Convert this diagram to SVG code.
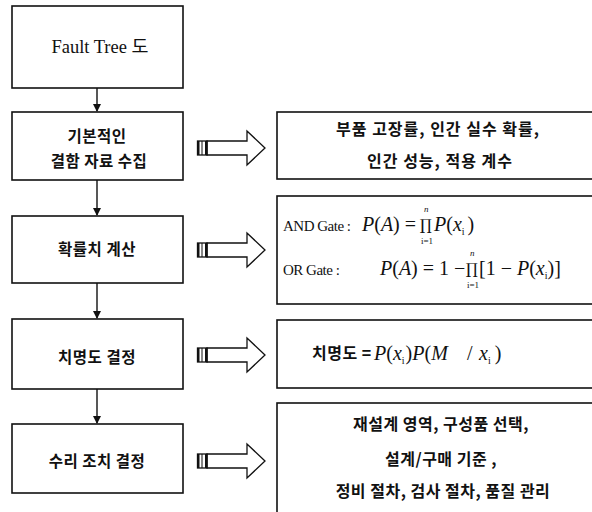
<svg xmlns="http://www.w3.org/2000/svg" width="592" height="512" viewBox="0 0 592 512">
<style>
.box{fill:#fff;stroke:#111;stroke-width:1.6}
.kr{font-family:"Noto Sans CJK KR","Noto Sans",sans-serif;font-weight:bold;font-size:15.5px;letter-spacing:0.5px;fill:#111}
.tm{font-family:"Liberation Serif","DejaVu Serif",serif;font-size:15px;fill:#111}
.m{font-family:"Liberation Serif","DejaVu Serif",serif;font-size:20px;fill:#111}
.it{font-style:italic}
.sm{font-family:"Liberation Serif","DejaVu Serif",serif;font-size:9px;fill:#111}
.pi{font-family:"DejaVu Serif","Liberation Serif",serif;font-size:15px;fill:#111}
.con{stroke:#111;stroke-width:1.4;fill:none}
.blk{fill:#fff;stroke:#111;stroke-width:1.3}
</style>
<defs>
<marker id="ah" markerWidth="8" markerHeight="8" refX="7" refY="4" orient="auto" markerUnits="userSpaceOnUse">
<path d="M0,0 L8,4 L0,8 Z" fill="#111"/>
</marker>
<g id="barrow">
<path class="blk" d="M207,-7 L247,-7 L247,-17 L265,0 L247,17 L247,7 L207,7 Z"/>
<rect x="197.5" y="-7" width="9.5" height="14" fill="#fff" stroke="#111" stroke-width="1.3"/>
<rect x="197.5" y="-7" width="2" height="14" fill="#111"/>
<line x1="202" y1="-7" x2="202" y2="7" stroke="#111" stroke-width="1"/>
<rect x="205" y="-7" width="2" height="14" fill="#111"/>
</g>
</defs>
<rect width="592" height="512" fill="#fff"/>

<g id="connectors">
<line class="con" x1="97" y1="88" x2="97" y2="111" marker-end="url(#ah)"/>
<line class="con" x1="97" y1="180" x2="97" y2="215" marker-end="url(#ah)"/>
<line class="con" x1="97" y1="283" x2="97" y2="318" marker-end="url(#ah)"/>
<line class="con" x1="97" y1="389" x2="97" y2="423" marker-end="url(#ah)"/>
<use href="#barrow" y="148"/>
<use href="#barrow" y="250"/>
<use href="#barrow" y="355"/>
<use href="#barrow" y="461"/>
</g>

<g id="n1">
<rect class="box" x="12" y="6" width="171" height="82"/>
<text x="100" y="53" text-anchor="middle" font-family="'Liberation Serif', 'Noto Sans CJK KR', serif" font-size="18.5" fill="#111">Fault Tree 도</text>
</g>
<g id="n2">
<rect class="box" x="12" y="112" width="171" height="68"/>
<text class="kr" x="97" y="142" text-anchor="middle">기본적인</text>
<text class="kr" x="99" y="167" text-anchor="middle">결함 자료 수집</text>
</g>
<g id="n3">
<rect class="box" x="12" y="216" width="171" height="67"/>
<text class="kr" x="97" y="255" text-anchor="middle">확률치 계산</text>
</g>
<g id="n4">
<rect class="box" x="12" y="319" width="171" height="70"/>
<text class="kr" x="97" y="363" text-anchor="middle">치명도 결정</text>
</g>
<g id="n5">
<rect class="box" x="12" y="424" width="171" height="69"/>
<text class="kr" x="97" y="467" text-anchor="middle">수리 조치 결정</text>
</g>

<g id="r1">
<rect class="box" x="277" y="112" width="330" height="67"/>
<text class="kr" x="438" y="135" text-anchor="middle" style="font-size:16px;letter-spacing:1px">부품 고장률, 인간 실수 확률,</text>
<text class="kr" x="440" y="167" text-anchor="middle" style="font-size:16px;letter-spacing:1px">인간 성능, 적용 계수</text>
</g>
<g id="r2">
<rect class="box" x="277" y="196" width="330" height="108"/>
<text class="tm" x="283" y="231" letter-spacing="-0.5">AND Gate :</text>
<text class="m" x="362" y="231"><tspan class="it">P</tspan>(<tspan class="it">A</tspan>) = </text>
<text class="pi" x="420" y="230">∏</text>
<text class="sm it" x="424" y="212">n</text>
<text class="sm" x="421" y="244" font-size="8">i=1</text>
<text class="m" x="434" y="231"><tspan class="it">P</tspan>(<tspan class="it">x</tspan><tspan font-size="10" dy="4">i</tspan><tspan dy="-4" dx="3">)</tspan></text>
<text class="tm" x="283" y="275" letter-spacing="-0.5">OR Gate :</text>
<text class="m" x="380" y="275"><tspan class="it">P</tspan>(<tspan class="it">A</tspan>) = 1 − </text>
<text class="pi" x="466" y="274">∏</text>
<text class="sm it" x="470" y="256">n</text>
<text class="sm" x="467" y="288" font-size="8">i=1</text>
<text class="m" x="479" y="275">[1 − <tspan class="it">P</tspan>(<tspan class="it">x</tspan><tspan font-size="10" dy="4">i</tspan><tspan dy="-4">)]</tspan></text>
</g>
<g id="r3">
<rect class="box" x="277" y="320" width="330" height="68"/>
<text class="kr" x="312" y="359" style="font-size:16px">치명도 =</text>
<text class="m" x="374" y="360" font-size="21"><tspan class="it">P</tspan>(<tspan class="it">x</tspan><tspan font-size="10" dy="4">i</tspan><tspan dy="-4" dx="1">)</tspan><tspan class="it">P</tspan>(<tspan class="it">M</tspan></text>
<text class="m" x="467" y="360" font-size="21">/</text>
<text class="m it" x="479" y="360" font-size="21">x<tspan font-size="10" dy="4" font-style="normal">i</tspan><tspan dy="-4" dx="4" font-style="normal">)</tspan></text>
</g>
<g id="r4">
<rect class="box" x="277" y="403" width="330" height="120"/>
<text class="kr" x="441" y="430" text-anchor="middle" style="font-size:16px">재설계 영역, 구성품 선택,</text>
<text class="kr" x="441" y="465" text-anchor="middle" style="font-size:16px">설계/구매 기준 ,</text>
<text class="kr" x="443" y="497" text-anchor="middle" style="font-size:16px">정비 절차, 검사 절차, 품질 관리</text>
</g>
</svg>
